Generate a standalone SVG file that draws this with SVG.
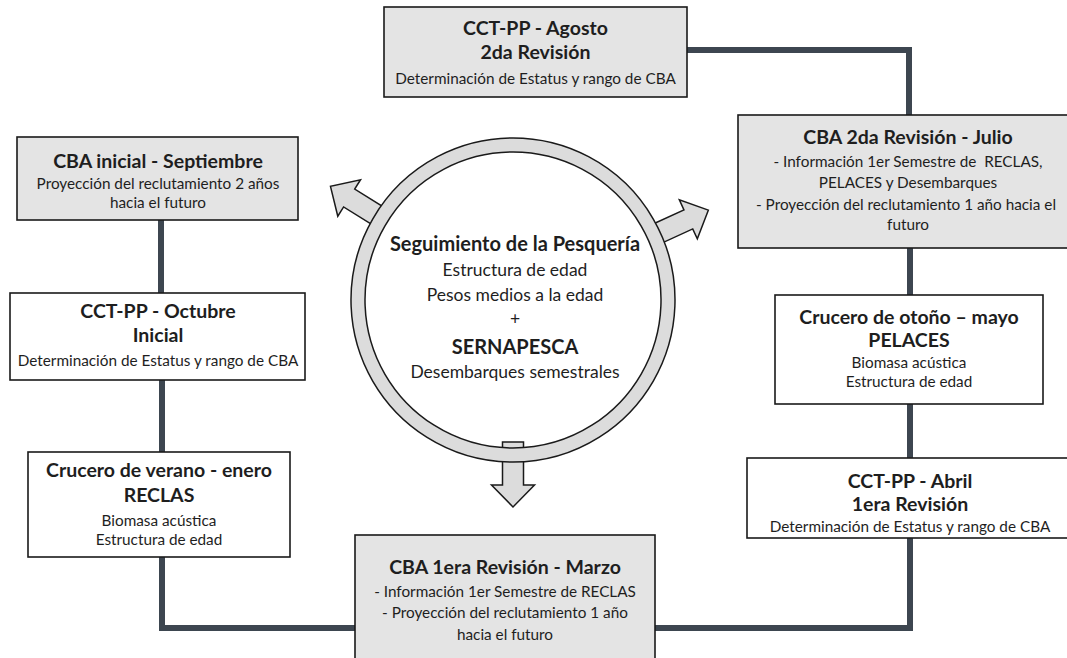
<svg xmlns="http://www.w3.org/2000/svg" width="1067" height="658" viewBox="0 0 1067 658">
<style>
.box{stroke:#1a1a1a;stroke-width:1.6}
.g{fill:#e4e4e4}
.w{fill:#ffffff}
.conn{fill:none;stroke:#3d4650;stroke-width:6;stroke-linejoin:miter}
text{font-family:Lato,"Liberation Sans",sans-serif;fill:#1e1e1e;text-anchor:middle}
.t{font-weight:bold;font-size:19.5px}
.s{font-size:15.3px}
.ct{font-weight:bold;font-size:20px}
.cs{font-size:17.5px}
.ring{fill:#dcdcdc;stroke:#1a1a1a;stroke-width:1.5;fill-rule:evenodd}
.arrow{fill:#dcdcdc;stroke:#1a1a1a;stroke-width:1.5}
</style>
<defs>
<path id="blk" d="M150,-10.5 L193,-10.5 L193,-21.5 L215,0 L193,21.5 L193,10.5 L150,10.5 Z"/>
</defs>
<rect x="0" y="0" width="1067" height="658" fill="#ffffff"/>
<g id="connectors">
<path class="conn" d="M687 50 H909 V115"/>
<path class="conn" d="M910 248 V295"/>
<path class="conn" d="M910 404 V458"/>
<path class="conn" d="M910 538 V628 H655"/>
<path class="conn" d="M355 628 H162 V557"/>
<path class="conn" d="M162 452 V380"/>
<path class="conn" d="M161 293 V220"/>
</g>
<g id="hub">
<use href="#blk" class="arrow" transform="translate(513 300) rotate(-148.1)"/>
<use href="#blk" class="arrow" transform="translate(513 300) rotate(-24.7)"/>
<use href="#blk" class="arrow" transform="translate(513 300) rotate(90) translate(-8 0)"/>
<path class="ring" d="M513,138 A162,162 0 1,1 512.99,138 Z M513,152 A148,148 0 1,0 513.01,152 Z"/>
<text class="ct" x="515" y="251">Seguimiento de la Pesquería</text>
<text class="cs" x="515" y="276">Estructura de edad</text>
<text class="cs" x="515" y="301">Pesos medios a la edad</text>
<text class="cs" x="515" y="325">+</text>
<text class="ct" x="515" y="354">SERNAPESCA</text>
<text class="cs" x="515" y="378">Desembarques semestrales</text>
</g>
<g id="n-agosto">
<rect class="box g" x="384" y="7" width="303" height="90"/>
<text class="t" x="535.5" y="35">CCT-PP - Agosto</text>
<text class="t" x="535.5" y="59">2da Revisión</text>
<text class="s" x="535.5" y="84">Determinación de Estatus y rango de CBA</text>
</g>
<g id="n-septiembre">
<rect class="box g" x="17" y="137" width="281" height="83"/>
<text class="t" x="158" y="168">CBA inicial - Septiembre</text>
<text class="s" x="158" y="189">Proyección del reclutamiento 2 años</text>
<text class="s" x="158" y="208">hacia el futuro</text>
</g>
<g id="n-octubre">
<rect class="box w" x="10" y="293" width="295" height="87"/>
<text class="t" x="158" y="318">CCT-PP - Octubre</text>
<text class="t" x="158" y="342">Inicial</text>
<text class="s" x="158" y="366">Determinación de Estatus y rango de CBA</text>
</g>
<g id="n-enero">
<rect class="box w" x="28" y="452" width="262" height="105"/>
<text class="t" x="159" y="477">Crucero de verano - enero</text>
<text class="t" x="159" y="502">RECLAS</text>
<text class="s" x="159" y="526">Biomasa acústica</text>
<text class="s" x="159" y="545">Estructura de edad</text>
</g>
<g id="n-julio">
<rect class="box g" x="738" y="115" width="340" height="133"/>
<text class="t" x="908" y="144">CBA 2da Revisión - Julio</text>
<text class="s" x="908" y="167" xml:space="preserve">- Información 1er Semestre de  RECLAS,</text>
<text class="s" x="908" y="188">PELACES y Desembarques</text>
<text class="s" x="906" y="210">- Proyección del reclutamiento 1 año hacia el</text>
<text class="s" x="908" y="230">futuro</text>
</g>
<g id="n-mayo">
<rect class="box w" x="775" y="295" width="268" height="109"/>
<text class="t" x="909" y="324">Crucero de otoño – mayo</text>
<text class="t" x="909" y="347">PELACES</text>
<text class="s" x="909" y="368">Biomasa acústica</text>
<text class="s" x="909" y="387">Estructura de edad</text>
</g>
<g id="n-abril">
<rect class="box w" x="747" y="458" width="335" height="80"/>
<text class="t" x="910" y="488">CCT-PP - Abril</text>
<text class="t" x="910" y="511">1era Revisión</text>
<text class="s" x="910" y="532">Determinación de Estatus y rango de CBA</text>
</g>
<g id="n-marzo">
<rect class="box g" x="355" y="535" width="300" height="130"/>
<text class="t" x="505" y="574">CBA 1era Revisión - Marzo</text>
<text class="s" x="505" y="597">- Información 1er Semestre de RECLAS</text>
<text class="s" x="505" y="618">- Proyección del reclutamiento 1 año</text>
<text class="s" x="505" y="640">hacia el futuro</text>
</g>
</svg>
